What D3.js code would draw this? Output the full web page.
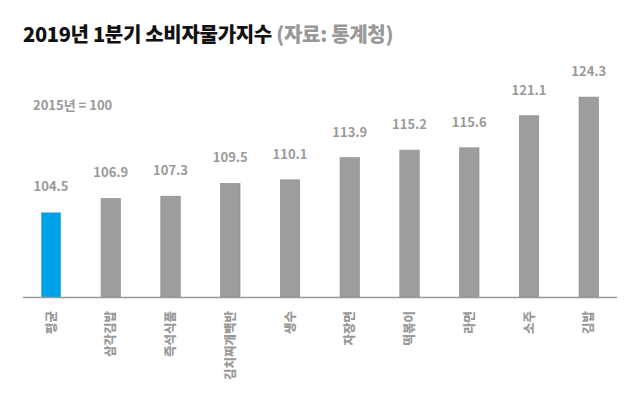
<!DOCTYPE html>
<html>
<head>
<meta charset="utf-8">
<script src="https://cdn.jsdelivr.net/npm/d3@7"></script>
<style>
  body { margin: 0; background: #fff; }
  svg { display: block; font-family: "Noto Sans CJK KR", "Noto Sans", sans-serif; }
</style>
</head>
<body>
<script>
// 2019 Q1 consumer price index (2015 = 100)

let w = 640;
let h = 404;

let items = ['평균', '삼각김밥', '즉석식품', '김치찌개백반', '생수', '자장면', '떡볶이', '라면', '소주', '김밥'];
let index2019 = [104.5, 106.9, 107.3, 109.5, 110.1, 113.9, 115.2, 115.6, 121.1, 124.3];

let data = items.map((d, i) => ({ item: d, value: index2019[i] }));

let svg = d3.select('body').append('svg')
    .attr('width', w)
    .attr('height', h);

let x = d3.scaleBand()
    .domain(items)
    .range([41.3, 598.5])
    .paddingInner(0.674)
    .paddingOuter(0);

let y = d3.scaleLinear()
    .domain([90, 125])
    .range([297, 93]);

// title
let title = svg.append('text')
    .attr('x', 23)
    .attr('y', 42)
    .attr('font-size', '20px')
    .attr('font-weight', 900)
    .attr('letter-spacing', '-0.3px');
title.append('tspan').attr('fill', '#111').text('2019년 1분기 소비자물가지수');
title.append('tspan').attr('fill', '#999').text(' (자료: 통계청)');

svg.append('text')
    .attr('x', 33)
    .attr('y', 110)
    .attr('font-size', '13px')
    .attr('font-weight', 'bold')
    .attr('fill', '#999')
    .text('2015년 = 100');

// bars
svg.selectAll('rect.bar')
    .data(data)
    .enter()
    .append('rect')
    .attr('class', 'bar')
    .attr('x', d => x(d.item))
    .attr('y', d => y(d.value))
    .attr('width', x.bandwidth())
    .attr('height', d => y.range()[0] - y(d.value))
    .attr('fill', (d, i) => i == 0 ? '#00a0e9' : '#9d9d9d')
    .attr('stroke', (d, i) => i == 0 ? 'none' : '#8c8c8c')
    .attr('stroke-width', 0.6);

// value labels
svg.selectAll('text.val')
    .data(data)
    .enter()
    .append('text')
    .attr('class', 'val')
    .attr('x', d => x(d.item) + x.bandwidth() / 2)
    .attr('y', d => y(d.value) - 21)
    .attr('text-anchor', 'middle')
    .attr('font-size', '13px')
    .attr('font-weight', 'bold')
    .attr('fill', '#999')
    .text(d => d.value.toFixed(1));

// baseline
svg.append('line')
    .attr('x1', 23)
    .attr('x2', 617)
    .attr('y1', y.range()[0] + 0.5)
    .attr('y2', y.range()[0] + 0.5)
    .attr('stroke', '#999')
    .attr('stroke-width', 1.5);

// category labels, rotated
svg.selectAll('text.cat')
    .data(data)
    .enter()
    .append('text')
    .attr('class', 'cat')
    .attr('transform', d => 'translate(' + (x(d.item) + x.bandwidth() / 2 + 4.5) + ',311) rotate(-90)')
    .attr('text-anchor', 'end')
    .attr('font-size', '12.5px')
    .attr('font-weight', 900)
    .attr('fill', '#999')
    .text(d => d.item);
</script>
</body>
</html>
